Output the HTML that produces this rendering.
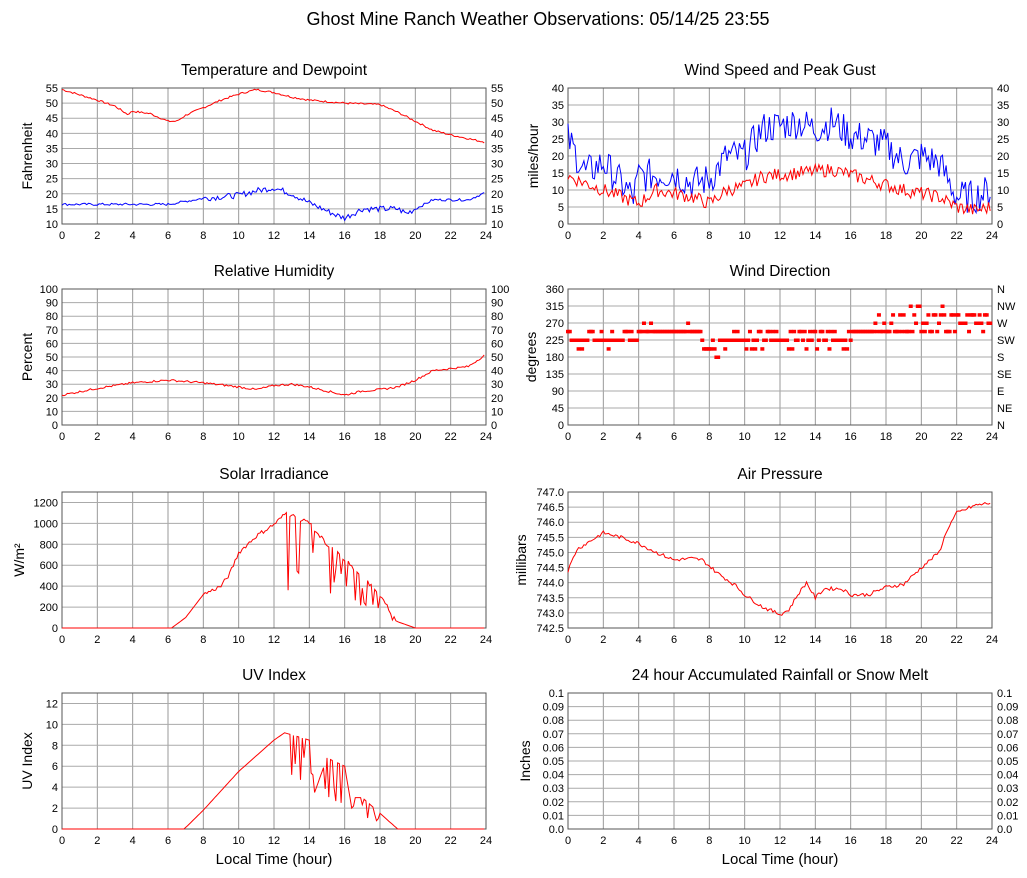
<!DOCTYPE html>
<html><head><meta charset="utf-8">
<style>
body{margin:0;background:#fff;}
svg{display:block;font-family:"Liberation Sans",sans-serif;}
</style></head>
<body>
<svg id="s" width="1027" height="878" xmlns="http://www.w3.org/2000/svg">
<rect width="1027" height="878" fill="#fff"/>
<text x="538" y="25" font-size="18" text-anchor="middle">Ghost Mine Ranch Weather Observations: 05/14/25 23:55</text>
</svg>
<script>
var S=document.getElementById('s'),out='';
var seed=7;function rnd(){seed=(seed*9301+49297)%233280;return seed/233280;}
function interp(k,t){for(var i=0;i<k.length-1;i++){if(t<=k[i+1][0]){var a=k[i],b=k[i+1];return a[1]+(b[1]-a[1])*(t-a[0])/(b[0]-a[0]);}}return k[k.length-1][1];}
function panel(o){
 var x0=o.x,y0=o.y,w=424,h=136,s='';
 var X=function(t){return x0+t/24*w;},Y=function(v){return y0+h-(v-o.min)/(o.max-o.min)*h;};
 for(var t=0;t<=24;t+=2){s+='<line x1="'+X(t)+'" y1="'+y0+'" x2="'+X(t)+'" y2="'+(y0+h)+'" stroke="#999" stroke-width="1"/>';
  s+='<text x="'+X(t)+'" y="'+(y0+h+15)+'" font-size="11" text-anchor="middle">'+t+'</text>';}
 for(var i=0;i<o.ticks.length;i++){var v=o.ticks[i],yy=Y(v);
  s+='<line x1="'+x0+'" y1="'+yy+'" x2="'+(x0+w)+'" y2="'+yy+'" stroke="#aaa" stroke-width="1"/>';
  s+='<text x="'+(x0-4)+'" y="'+(yy+4)+'" font-size="11" text-anchor="end">'+(o.fmt?o.fmt(v):v)+'</text>';
  if(o.right)s+='<text x="'+(x0+w+5)+'" y="'+(yy+4)+'" font-size="11">'+(o.right===true?(o.fmt?o.fmt(v):v):o.right[i])+'</text>';}
 s+='<rect x="'+x0+'" y="'+y0+'" width="'+w+'" height="'+h+'" fill="none" stroke="#555"/>';
 s+='<text x="'+(x0+w/2)+'" y="'+(y0-13)+'" font-size="15.5" text-anchor="middle">'+o.title+'</text>';
 s+='<text transform="translate('+(x0-o.lx)+','+(y0+h/2)+') rotate(-90)" font-size="14" text-anchor="middle">'+o.label+'</text>';
 (o.series||[]).forEach(function(se){var p=[];
  for(var t=0;t<=24;t+=0.1){var v=se.f(t);v=Math.max(o.min,Math.min(o.max,v));p.push(X(t).toFixed(1)+','+Y(v).toFixed(1));}
  s+='<polyline points="'+p.join(' ')+'" fill="none" stroke="'+se.c+'" stroke-width="1"/>';});
 if(o.dots)o.dots.forEach(function(d){s+='<rect x="'+(X(d[0])-2)+'" y="'+(Y(d[1])-1.5)+'" width="4" height="3.5" fill="red"/>';});
 out+=s;
}
function rng(a,b,c){var r=[];for(var v=a;v<=b+1e-9;v+=c)r.push(+v.toFixed(3));return r;}
var temp=[[0,54.5],[2,51],[3,49],[3.7,46.3],[4,47.3],[5,46.5],[6,44],[6.5,44],[7,46],[8,48.5],[9,51],[10,53],[11,54.5],[12,53.5],[13,52],[14,51],[16,50],[18,49.5],[19,47],[20,44],[21,41],[22,39.5],[24,37]];
var dew=[[0,16.5],[6,16.5],[8,18.5],[10,19.5],[11,21],[12,22],[13,20],[14,17],[15.5,13],[16,12],[17,15],[19,15],[19.5,13.5],[20,15],[21,18],[23,18],[24,20.5]];
panel({x:62,y:88,min:10,max:55,ticks:rng(10,55,5),right:true,title:'Temperature and Dewpoint',label:'Fahrenheit',lx:30,
 series:[{c:'red',f:function(t){return interp(temp,t)+(rnd()-.5)*0.6}},{c:'blue',f:function(t){return interp(dew,t)+(rnd()-.5)*(t>8&&t<20?2:0.8)}}]});
var gust=[[0,25],[1,15],[2,18],[3,12],[3.7,8],[4,14],[6,15],[7,12],[8,13],[9,20],[10,20],[11,28],[13,30],[14,28],[15,30],[16,26],[17,25],[18,23],[19,18],[20,20],[21,18],[22,8],[23,8],[24,10]];
var spd=[[0,14],[2,10],[4,6],[5,10],[7,8],[8,6],[9,10],[10,11],[11,14],[13,15],[15,16],[17,13],[19,10],[21,8],[22,5],[23,4],[24,5]];
panel({x:568,y:88,min:0,max:40,ticks:rng(0,40,5),right:true,title:'Wind Speed and Peak Gust',label:'miles/hour',lx:30,
 series:[{c:'blue',f:function(t){return interp(gust,t)+(rnd()-.5)*10}},{c:'red',f:function(t){return interp(spd,t)+(rnd()-.5)*4}}]});
var rh=[[0,22],[2,27],[4,31],[6,33],[8,31],[10,28],[11,26],[12,29],[13,30],[14,28],[15,25],[16,22],[17,25],[18,26],[19,28],[20,33],[21,40],[23,43],[24,52]];
panel({x:62,y:289,min:0,max:100,ticks:rng(0,100,10),right:true,title:'Relative Humidity',label:'Percent',lx:30,
 series:[{c:'red',f:function(t){return interp(rh,t)+(rnd()-.5)*1.5}}]});
var dots=[];
for(var t=0;t<=24;t+=0.1){var c;var r=rnd();
 if(t<4)c=r<.5?225:(r<.9?248:(r<.95?202:225));
 else if(t<7.5)c=r<.95?248:270;
 else if(t<9)c=r<.4?202:(r<.8?225:180);
 else if(t<16)c=r<.5?225:(r<.8?248:202);
 else if(t<19)c=r<.7?248:(r<.9?270:292);
 else c=r<.35?270:(r<.65?248:(r<.9?292:315));
 dots.push([t,c]);}
panel({x:568,y:289,min:0,max:360,ticks:rng(0,360,45),right:['N','NE','E','SE','S','SW','W','NW','N'],title:'Wind Direction',label:'degrees',lx:32,dots:dots});
var sol=[[0,0],[6.2,0],[7,100],[8,320],[9,400],[9.5,520],[10,720],[11,880],[12,990],[12.7,1100],[14,1000],[15,800],[16,650],[17,500],[18,300],[19,60],[20,0],[24,0]];
panel({x:62,y:492,min:0,max:1300,ticks:rng(0,1200,200),title:'Solar Irradiance',label:'W/m²',lx:38,
 series:[{c:'red',f:function(t){var v=interp(sol,t);if(t>12.7&&t<18.8&&rnd()<.25)v*=0.3+rnd()*0.5;return v+(t>8&&t<19?(rnd()-.5)*40:0)}}]});
var pr=[[0,744.4],[0.5,745.1],[2,745.65],[3,745.5],[4,745.3],[5,745],[6,744.75],[7,744.8],[7.6,744.75],[8.5,744.3],[9.5,743.9],[10,743.6],[11,743.2],[12,742.95],[12.5,743.1],[13,743.6],[13.5,744],[14,743.5],[14.5,743.8],[15.5,743.8],[16,743.6],[17,743.6],[18,743.85],[19,743.95],[20,744.5],[21,745],[21.5,745.8],[22,746.3],[23,746.55],[24,746.65]];
panel({x:568,y:492,min:742.5,max:747,ticks:rng(742.5,747,0.5),fmt:function(v){return v.toFixed(1)},title:'Air Pressure',label:'millibars',lx:42,
 series:[{c:'red',f:function(t){return interp(pr,t)+(rnd()-.5)*0.12}}]});
var uv=[[0,0],[6.9,0],[7.1,0.3],[8,1.8],[10,5.5],[12,8.5],[12.6,9.2],[13,9],[14,8.5],[14.3,3.5],[15,6.8],[16,6],[16.3,3],[17,3],[18,1.5],[19,0],[24,0]];
panel({x:62,y:693,min:0,max:13,ticks:rng(0,12,2),title:'UV Index',label:'UV Index',lx:30,
 series:[{c:'red',f:function(t){var v=interp(uv,t);if(t>12.5&&t<18&&rnd()<.2)v*=0.4+rnd()*0.4;return v}}]});
panel({x:568,y:693,min:0,max:0.1,ticks:rng(0,0.1,0.01),fmt:function(v){return v==0?'0.0':(v==0.1?'0.1':v.toFixed(2))},right:true,title:'24 hour Accumulated Rainfall or Snow Melt',label:'Inches',lx:38});
out+='<text x="274" y="864" font-size="15" text-anchor="middle">Local Time (hour)</text><text x="780" y="864" font-size="15" text-anchor="middle">Local Time (hour)</text>';
S.insertAdjacentHTML('beforeend',out);
</script>
</body></html>
